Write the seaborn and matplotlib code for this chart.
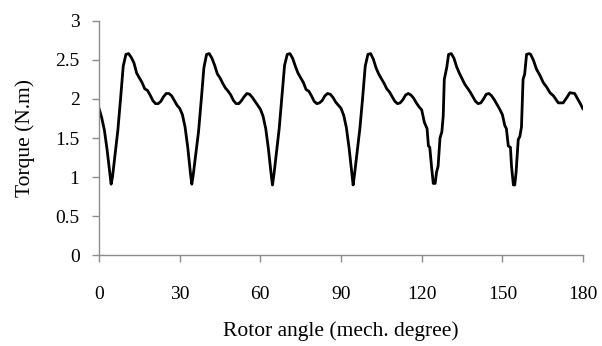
import matplotlib
matplotlib.use("Agg")
import matplotlib.pyplot as plt
import seaborn as sns
import pandas as pd

# Rotor angle (mech. degree) and torque (N.m)
angle_p1 = [0, 1, 2, 3, 4, 4.5, 5, 6, 7, 8, 9, 10, 11, 12, 13, 14, 15, 16, 17, 18, 19, 20, 21, 22, 23, 24, 25, 26, 27, 28, 29]
torque_p1 = [1.88, 1.76, 1.60, 1.35, 1.05, 0.91, 1.00, 1.30, 1.60, 2.00, 2.42, 2.57, 2.58, 2.53, 2.46, 2.33, 2.27, 2.21, 2.13, 2.11, 2.05, 1.98, 1.94, 1.94, 1.97, 2.03, 2.07, 2.07, 2.04, 1.98, 1.92]

angle_p2 = [30, 31, 32, 33, 34, 34.5, 35, 36, 37, 38, 39, 40, 41, 42, 43, 44, 45, 46, 47, 48, 49, 50, 51, 52, 53, 54, 55, 56, 57, 58, 59]
torque_p2 = [1.88, 1.80, 1.64, 1.38, 1.05, 0.91, 1.02, 1.30, 1.58, 1.98, 2.40, 2.57, 2.58, 2.52, 2.43, 2.32, 2.27, 2.20, 2.14, 2.10, 2.05, 1.98, 1.94, 1.94, 1.98, 2.03, 2.07, 2.06, 2.02, 1.97, 1.92]

angle_p3 = [60, 61, 62, 63, 64, 64.5, 65, 66, 67, 68, 69, 70, 71, 72, 73, 74, 75, 76, 77, 78, 79, 80, 81, 82, 83, 84, 85, 86, 87, 88, 89]
torque_p3 = [1.87, 1.78, 1.62, 1.36, 1.04, 0.90, 1.02, 1.32, 1.62, 2.02, 2.43, 2.57, 2.58, 2.52, 2.42, 2.33, 2.27, 2.21, 2.12, 2.10, 2.04, 1.97, 1.94, 1.95, 1.98, 2.04, 2.07, 2.06, 2.02, 1.96, 1.92]

angle_p4 = [90, 91, 92, 93, 94, 94.5, 95, 96, 97, 98, 99, 100, 101, 102, 103, 104, 105, 106, 107, 108, 109, 110, 111, 112, 113, 114, 115, 116, 117, 118, 119]
torque_p4 = [1.88, 1.79, 1.63, 1.37, 1.05, 0.90, 1.03, 1.33, 1.62, 2.00, 2.42, 2.57, 2.58, 2.51, 2.40, 2.32, 2.26, 2.20, 2.13, 2.09, 2.03, 1.97, 1.94, 1.95, 1.99, 2.05, 2.07, 2.05, 2.01, 1.95, 1.90]

angle_p5 = [120, 121, 122, 122.5, 123, 123.7, 124.3, 125, 125.5, 126.1, 126.8, 127.5, 128, 128.4, 129.3, 130, 131, 132, 133, 134, 135, 136, 137, 138, 139, 140, 141, 142, 143, 144, 145, 146, 147, 148, 149]
torque_p5 = [1.86, 1.70, 1.62, 1.40, 1.38, 1.12, 0.92, 0.92, 1.06, 1.14, 1.50, 1.58, 1.78, 2.25, 2.40, 2.57, 2.58, 2.52, 2.41, 2.33, 2.26, 2.19, 2.14, 2.09, 2.03, 1.97, 1.94, 1.95, 2.00, 2.06, 2.07, 2.04, 1.99, 1.93, 1.87]

angle_p6 = [150, 150.9, 151.5, 152.2, 153, 153.4, 154.1, 154.6, 155.1, 155.9, 156.5, 157.1, 157.7, 158.3, 159, 160, 160.5, 161.5, 162.7, 164, 165.2, 166.5, 167.7, 169, 170.8, 172.6, 174, 175.1, 176.9, 178, 179, 180]
torque_p6 = [1.80, 1.66, 1.62, 1.40, 1.38, 1.14, 0.90, 0.90, 1.06, 1.48, 1.52, 1.64, 2.25, 2.32, 2.57, 2.58, 2.57, 2.50, 2.38, 2.30, 2.21, 2.15, 2.08, 2.04, 1.95, 1.95, 2.02, 2.08, 2.07, 2.00, 1.94, 1.87]

angle = angle_p1 + angle_p2 + angle_p3 + angle_p4 + angle_p5 + angle_p6
torque = torque_p1 + torque_p2 + torque_p3 + torque_p4 + torque_p5 + torque_p6

x_ticks = [0, 30, 60, 90, 120, 150, 180]
y_ticks = [0, 0.5, 1, 1.5, 2, 2.5, 3]
y_tick_labels = ["0", "0.5", "1", "1.5", "2", "2.5", "3"]

df = pd.DataFrame({"angle": angle, "torque": torque})

sns.set_style("white")
plt.rcParams["font.family"] = ["Liberation Serif", "DejaVu Serif"]

fig = plt.figure(figsize=(6.02, 3.46), dpi=100)
ax = fig.add_axes([0.1645, 0.262, 0.804, 0.678])

sns.lineplot(data=df, x="angle", y="torque", color="black", linewidth=2.0,
             sort=False, estimator=None, ax=ax)

ax.set_xlim(0, 180)
ax.set_ylim(0, 3)
ax.set_xticks(x_ticks)
ax.set_xticklabels([str(t) for t in x_ticks])
ax.set_yticks(y_ticks)
ax.set_yticklabels(y_tick_labels)

for side in ["top", "right"]:
    ax.spines[side].set_visible(False)
for side in ["left", "bottom"]:
    ax.spines[side].set_color("#8c8c8c")
    ax.spines[side].set_linewidth(1.0)

ax.tick_params(axis="x", direction="out", length=5, width=1.0, color="#8c8c8c",
               pad=17, labelsize=14, labelcolor="black", bottom=True)
ax.tick_params(axis="y", direction="out", length=5, width=1.0, color="#8c8c8c",
               pad=9, labelsize=14, labelcolor="black", left=True)

ax.set_xlabel("Rotor angle (mech. degree)", fontsize=15.5, color="black", labelpad=13)
ax.set_ylabel("Torque (N.m)", fontsize=15.5, color="black", labelpad=15)

fig.savefig("out.png", dpi=100)
